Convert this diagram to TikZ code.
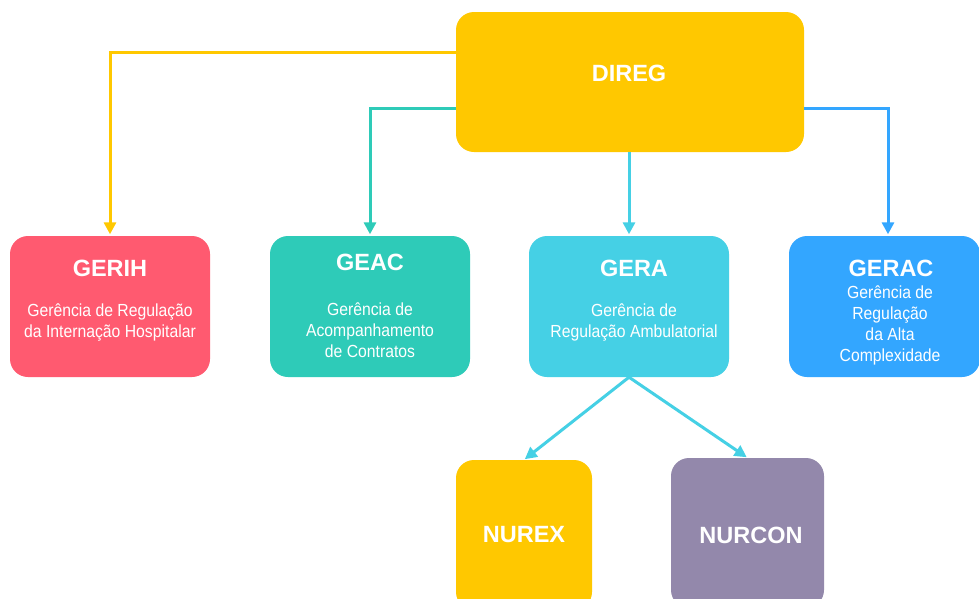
\documentclass[tikz,border=0pt]{standalone}
\usepackage{fontspec}
\setmainfont{Liberation Sans}
\newfontfamily\condf[FakeStretch=0.9]{Liberation Sans}
\usetikzlibrary{arrows.meta}
\definecolor{cYellow}{HTML}{FFC800}
\definecolor{cPink}{HTML}{FF5A70}
\definecolor{cTeal}{HTML}{2ECBB8}
\definecolor{cCyan}{HTML}{45D0E5}
\definecolor{cBlue}{HTML}{33A6FF}
\definecolor{cPurple}{HTML}{9388AB}
\tikzset{
  box/.style={rounded corners=18pt, draw=none, minimum width=200pt, minimum height=141pt, inner sep=0pt},
  ttl/.style={text=white, font=\fontsize{23.5}{26}\selectfont\bfseries, inner sep=0pt},
  sub/.style={text=white, font=\condf\fontsize{17.5}{21}\selectfont, align=center, inner sep=0pt},
  conn/.style={line width=3pt, -{Triangle[length=12pt,width=12pt]}, shorten >=1.5pt},
}
\begin{document}
\begin{tikzpicture}[x=1pt,y=-1pt]
\useasboundingbox (0,0) rectangle (979,598);
\fill[white] (0,0) rectangle (979,598);
\clip (0,0) rectangle (979,598);
% boxes
\node[box, fill=cYellow, minimum width=348pt, minimum height=140pt] (direg) at (630,82) {};
\node[box, fill=cPink] (gerih) at (110,306.5) {};
\node[box, fill=cTeal] (geac) at (370,306.5) {};
\node[box, fill=cCyan] (gera) at (629,306.5) {};
\node[box, fill=cBlue, minimum width=191pt] (gerac) at (884.5,306.5) {};
\node[box, fill=cYellow, minimum width=136pt, minimum height=150pt] (nurex) at (524,535) {};
\node[box, fill=cPurple, minimum width=153pt, minimum height=150pt] (nurcon) at (747.5,533) {};
% texts
\node[ttl] (t-direg) at (629,73) {DIREG};
\node[ttl] (t-gerih) at (110,268) {GERIH};
\node[sub] (s-gerih) at (110,322) {Gerência de Regulação\\da Internação Hospitalar};
\node[ttl] (t-geac) at (370,262) {GEAC};
\node[sub] (s-geac) at (370,330.5) {Gerência de\\Acompanhamento\\de Contratos};
\node[ttl] (t-gera) at (634,268) {GERA};
\node[sub] (s-gera) at (634,322.5) {Gerência de\\Regulação Ambulatorial};
\node[ttl] (t-gerac) at (891,268) {GERAC};
\node[sub] (s-gerac) at (890,325.5) {Gerência de\\Regulação\\da Alta\\Complexidade};
\node[ttl] (t-nurex) at (524,535) {NUREX};
\node[ttl] (t-nurcon) at (751,535) {NURCON};
% connectors
\draw[conn, cYellow] ([yshift=30pt]direg.west) -| (gerih.north);
\draw[conn, cTeal] ([yshift=-26pt]direg.west) -| (geac.north);
\draw[conn, cCyan] (direg.south -| gera.north) -- (gera.north);
\draw[conn, cBlue] ([yshift=-26pt]direg.east) -| ([xshift=3.5pt]gerac.north);
\draw[conn, cCyan, shorten >=1pt] (gera.south) -- (nurex.north);
\draw[conn, cCyan, shorten >=1pt] (gera.south) -- (nurcon.north);
\end{tikzpicture}
\end{document}
